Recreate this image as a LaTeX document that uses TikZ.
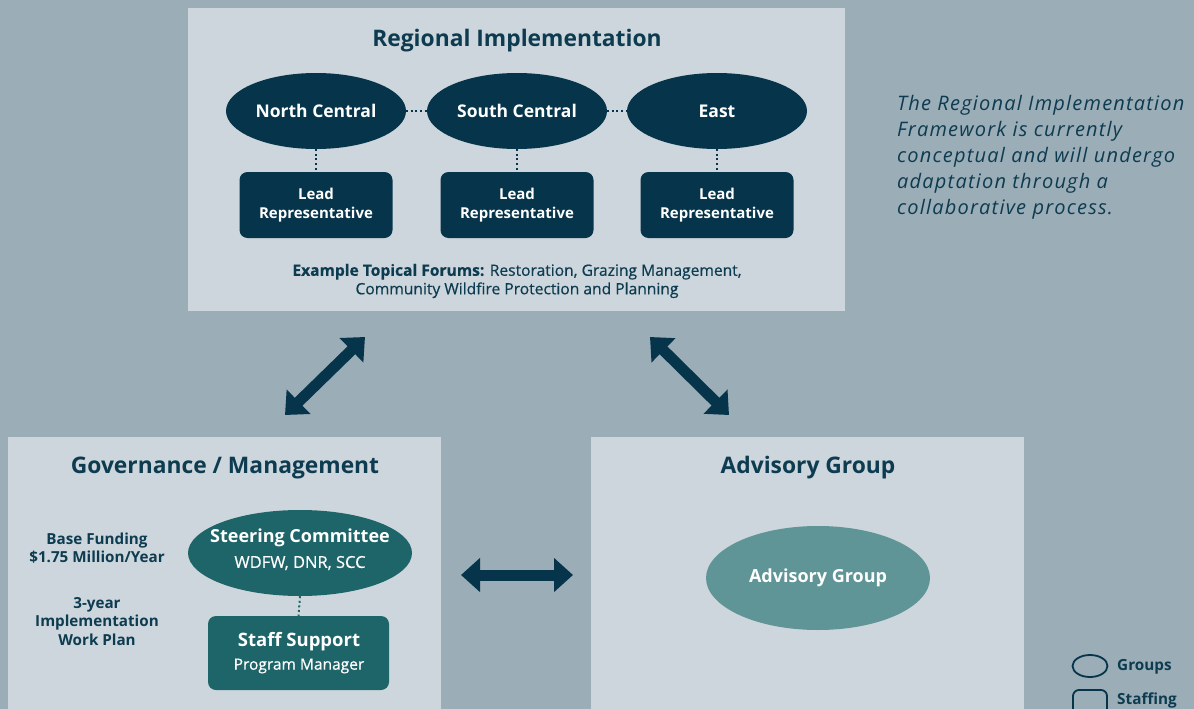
\documentclass[tikz,border=0pt]{standalone}
\usepackage{fontspec}
\setmainfont{Open Sans}
\usetikzlibrary{arrows.meta,shapes.geometric}
\definecolor{bg}{HTML}{9BADB7}
\definecolor{panel}{HTML}{CDD6DC}
\definecolor{navy}{HTML}{06354B}
\definecolor{tealbox}{HTML}{1D6568}
\definecolor{sage}{HTML}{5F9596}
\definecolor{txt}{HTML}{0D3B50}
\newfontfamily\medfont[FakeBold=0.5]{Open Sans}
\begin{document}
\begin{tikzpicture}[x=1pt,y=-1pt,
  panelbox/.style={fill=panel},
  title/.style={text=txt, font=\bfseries\fontsize{22.8}{26}\selectfont, inner sep=0},
  grp/.style={ellipse, fill=navy, text=white, font=\bfseries\fontsize{17.5}{20}\selectfont, inner sep=0, minimum width=180pt, minimum height=76pt},
  lead/.style={rectangle, rounded corners=8pt, fill=navy, text=white, minimum width=153pt, minimum height=66pt, align=center, inner sep=0, font=\bfseries\fontsize{15}{19}\selectfont},
  dots/.style={navy, line width=2pt, dash pattern=on 2pt off 2.6pt},
  bigarrow/.style={line width=11pt, navy, {Triangle[length=19pt,width=33pt]}-{Triangle[length=19pt,width=33pt]}},
  note/.style={text=txt, align=center, inner sep=0, font=\bfseries\fontsize{15.2}{18.5}\selectfont}
]
\useasboundingbox (0,0) rectangle (1194,709);
\fill[bg] (0,0) rectangle (1194,709);

% panels
\fill[panelbox] (188,8) rectangle (845,311);
\fill[panelbox] (8,437) rectangle (441,709);
\fill[panelbox] (591,437) rectangle (1024,709);

% Regional Implementation
\node[title] (rtitle) at (517,41) {Regional Implementation};
\node[grp] (nc) at (316,111) {North Central};
\node[grp] (sc) at (517,111) {South Central};
\node[grp] (ea) at (717,111) {East};
\node[lead] (l1) at (316,205) {Lead\\Representative};
\node[lead] (l2) at (517,205) {Lead\\Representative};
\node[lead] (l3) at (717,205) {Lead\\Representative};
\draw[dots] (nc.east) -- (sc.west);
\draw[dots] (sc.east) -- (ea.west);
\draw[dots] (nc.south) -- (l1.north);
\draw[dots] (sc.south) -- (l2.north);
\draw[dots] (ea.south) -- (l3.north);
\node[note, font=\medfont\fontsize{15.6}{18.5}\selectfont] (forums) at (517,281) {\textbf{Example Topical Forums:} Restoration, Grazing Management,\\Community Wildfire Protection and Planning};

% italic note
\node[text=txt, align=left, anchor=north west, inner sep=0, font=\itshape\fontsize{20}{26}\selectfont\addfontfeatures{LetterSpace=6}] (inote) at (897,95) {The Regional Implementation\\Framework is currently\\conceptual and will undergo\\adaptation through a\\collaborative process.};

% Governance
\node[title] (gtitle) at (225,468) {Governance / Management};
\node[ellipse, fill=tealbox, inner sep=0, minimum width=224pt, minimum height=86pt] (steer) at (300,553) {};
\node[text=white, font=\bfseries\fontsize{18}{20}\selectfont, inner sep=0] (steert) at (300,538) {Steering Committee};
\node[text=white, font=\medfont\fontsize{16.5}{18}\selectfont, inner sep=0] (steers) at (300,563) {WDFW, DNR, SCC};
\node[rectangle, rounded corners=8pt, fill=tealbox, minimum width=181pt, minimum height=74pt, inner sep=0] (staff) at (298.5,653) {};
\node[text=white, font=\bfseries\fontsize{18.5}{20}\selectfont, inner sep=0] (stafft) at (299,642) {Staff Support};
\node[text=white, font=\medfont\fontsize{15.5}{18}\selectfont, inner sep=0] (staffs) at (299,666) {Program Manager};
\draw[dots, tealbox] (steer.south) -- (staff.north);
\node[note] (fund) at (97,548) {Base Funding\\\$1.75 Million/Year};
\node[note] (plan) at (97,621.5) {3-year\\Implementation\\Work Plan};

% Advisory
\node[title] (atitle) at (808,468) {Advisory Group};
\node[ellipse, fill=sage, text=white, inner sep=0, minimum width=224pt, minimum height=104pt, font=\bfseries\fontsize{18}{20}\selectfont] (adv) at (818,578) {Advisory Group};

% arrows
\coordinate (a1) at (365,337);
\coordinate (a2) at (285,415);
\coordinate (b1) at (650,337);
\coordinate (b2) at (729,415);
\coordinate (c1) at (461,575);
\coordinate (c2) at (573,575);
\draw[bigarrow] (a1) -- (a2);
\draw[bigarrow] (b1) -- (b2);
\draw[bigarrow] (c1) -- (c2);

% legend
\node[ellipse, draw=navy, line width=1.8pt, minimum width=35pt, minimum height=22pt, inner sep=0] (lg1) at (1090,666) {};
\node[text=txt, anchor=west, inner sep=0, font=\bfseries\fontsize{15.3}{18}\selectfont] (lg1t) at (1117,667) {Groups};
\draw[navy, line width=1.8pt, rounded corners=6pt] (1107,712) -- (1107,690) -- (1073,690) -- (1073,712);
\node[text=txt, anchor=west, inner sep=0, font=\bfseries\fontsize{15.3}{18}\selectfont] (lg2t) at (1117,700) {Staffing};
\end{tikzpicture}
\end{document}
